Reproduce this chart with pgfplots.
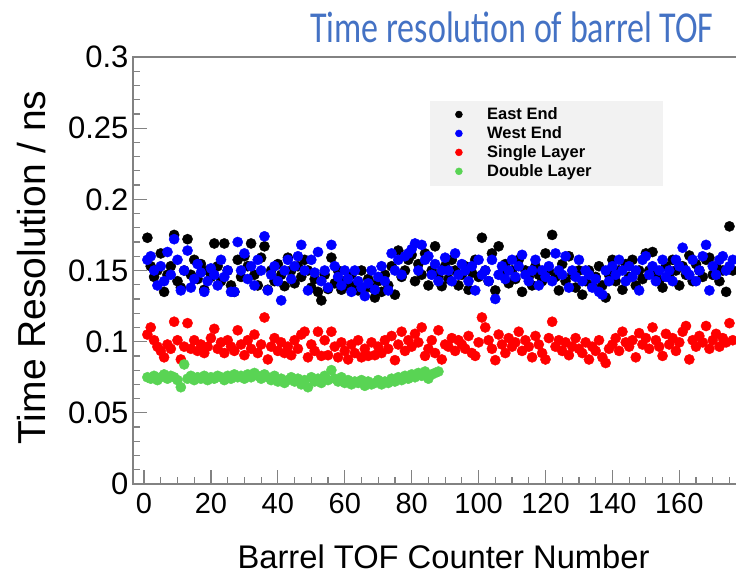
\documentclass[border=0pt]{standalone}
\usepackage{pgfplots}
\pgfplotsset{compat=1.18}
\usepackage{pgfplotstable}
\usepackage{fontspec}
\setmainfont{Liberation Sans}
\newfontfamily\titlefont{Carlito}

\definecolor{titleblue}{RGB}{68,114,196}
\definecolor{rootgreen}{RGB}{89,212,84}
\definecolor{legendgray}{RGB}{242,242,242}
\definecolor{framegray}{RGB}{130,130,130}

% Time resolution (ns) per barrel TOF counter
\pgfplotstableread{
n east west single
1 0.173 0.1575 0.105
2 0.153 0.160 0.110
3 0.1455 0.150 0.101
4 0.150 0.1395 0.0965
5 0.162 0.153 0.0935
6 0.135 0.1425 0.089
7 0.147 0.163 0.098
8 0.153 0.147 0.095
9 0.175 0.172 0.114
10 0.1425 0.1575 0.101
11 0.138 0.136 0.0875
12 0.150 0.150 0.0965
13 0.172 0.164 0.113
14 0.147 0.138 0.095
15 0.1575 0.144 0.101
16 0.144 0.1545 0.0935
17 0.1545 0.1485 0.098
18 0.1365 0.135 0.092
19 0.150 0.1425 0.0965
20 0.1455 0.1515 0.1025
21 0.169 0.147 0.109
22 0.153 0.1395 0.095
23 0.1425 0.1575 0.0995
24 0.169 0.1455 0.092
25 0.150 0.150 0.101
26 0.1395 0.135 0.0965
27 0.135 0.135 0.0935
28 0.1575 0.170 0.108
29 0.1455 0.150 0.098
30 0.160 0.162 0.0905
31 0.153 0.144 0.101
32 0.169 0.153 0.095
33 0.147 0.1395 0.105
34 0.1395 0.1575 0.092
35 0.159 0.150 0.098
36 0.167 0.174 0.117
37 0.1365 0.136 0.0875
38 0.150 0.147 0.0965
39 0.1425 0.153 0.1025
40 0.1545 0.1425 0.0935
41 0.147 0.129 0.0995
42 0.139 0.150 0.092
43 0.159 0.1575 0.0965
44 0.150 0.144 0.0905
45 0.141 0.153 0.101
46 0.153 0.160 0.095
47 0.1455 0.168 0.105
48 0.1575 0.150 0.107
49 0.150 0.136 0.089
50 0.138 0.1575 0.098
51 0.144 0.1485 0.0935
52 0.135 0.163 0.107
53 0.129 0.1425 0.090
54 0.147 0.150 0.101
55 0.137 0.138 0.0905
56 0.159 0.168 0.107
57 0.141 0.153 0.0965
58 0.150 0.1455 0.089
59 0.1365 0.1395 0.0995
60 0.1425 0.150 0.0935
61 0.139 0.144 0.0875
62 0.147 0.135 0.098
63 0.1395 0.150 0.092
64 0.136 0.1425 0.101
65 0.150 0.138 0.089
66 0.138 0.132 0.095
67 0.144 0.141 0.090
68 0.138 0.150 0.0995
69 0.131 0.1365 0.0905
70 0.1425 0.1455 0.0965
71 0.135 0.153 0.092
72 0.147 0.1425 0.101
73 0.1395 0.136 0.095
74 0.153 0.162 0.104
75 0.133 0.150 0.087
76 0.164 0.1575 0.098
77 0.1455 0.147 0.107
78 0.150 0.160 0.0935
79 0.1575 0.162 0.101
80 0.161 0.165 0.0965
81 0.1425 0.169 0.1055
82 0.1545 0.150 0.0995
83 0.147 0.168 0.110
84 0.162 0.1575 0.090
85 0.1395 0.160 0.095
86 0.150 0.147 0.101
87 0.167 0.1545 0.092
88 0.1455 0.1425 0.108
89 0.139 0.150 0.0875
90 0.153 0.159 0.098
91 0.144 0.150 0.0965
92 0.1575 0.1425 0.1025
93 0.150 0.162 0.0935
94 0.1395 0.147 0.101
95 0.147 0.1545 0.098
96 0.153 0.150 0.095
97 0.1365 0.1425 0.104
98 0.1485 0.153 0.092
99 0.1575 0.136 0.090
100 0.1455 0.1575 0.0995
101 0.173 0.147 0.117
102 0.150 0.150 0.110
103 0.1425 0.1425 0.101
104 0.162 0.1575 0.095
105 0.136 0.130 0.087
106 0.167 0.147 0.105
107 0.147 0.153 0.098
108 0.1545 0.144 0.092
109 0.141 0.150 0.1025
110 0.150 0.1575 0.0965
111 0.144 0.1455 0.0995
112 0.1575 0.153 0.107
113 0.135 0.161 0.0935
114 0.150 0.147 0.101
115 0.1455 0.1425 0.0965
116 0.1395 0.150 0.089
117 0.153 0.1575 0.104
118 0.147 0.1395 0.098
119 0.1425 0.150 0.092
120 0.162 0.1455 0.0875
121 0.150 0.153 0.1025
122 0.175 0.1425 0.114
123 0.1455 0.162 0.0965
124 0.136 0.150 0.101
125 0.1545 0.147 0.0935
126 0.1425 0.160 0.0995
127 0.160 0.138 0.0905
128 0.147 0.150 0.0965
129 0.138 0.1455 0.1025
130 0.150 0.1575 0.095
131 0.133 0.1425 0.092
132 0.1425 0.150 0.0995
133 0.150 0.147 0.0875
134 0.139 0.138 0.0965
135 0.1455 0.144 0.0935
136 0.153 0.135 0.101
137 0.1395 0.133 0.089
138 0.131 0.150 0.085
139 0.147 0.1425 0.095
140 0.1575 0.153 0.098
141 0.1425 0.147 0.1025
142 0.150 0.1575 0.0935
143 0.1365 0.150 0.107
144 0.1545 0.1425 0.0995
145 0.1455 0.153 0.0965
146 0.1575 0.1455 0.101
147 0.1395 0.150 0.089
148 0.150 0.136 0.106
149 0.144 0.1575 0.098
150 0.162 0.160 0.1025
151 0.150 0.147 0.095
152 0.163 0.153 0.110
153 0.147 0.1425 0.101
154 0.1425 0.150 0.0965
155 0.138 0.1575 0.090
156 0.153 0.1455 0.1055
157 0.1455 0.150 0.098
158 0.1575 0.1425 0.1025
159 0.150 0.1575 0.0935
160 0.1395 0.153 0.0995
161 0.153 0.166 0.107
162 0.147 0.150 0.111
163 0.1605 0.147 0.0875
164 0.1425 0.1575 0.101
165 0.1545 0.1425 0.0965
166 0.150 0.150 0.104
167 0.1455 0.160 0.0995
168 0.1575 0.168 0.111
169 0.159 0.136 0.095
170 0.147 0.153 0.101
171 0.153 0.147 0.1055
172 0.1425 0.1575 0.0965
173 0.150 0.160 0.1025
174 0.135 0.150 0.0995
175 0.181 0.153 0.113
176 0.150 0.1575 0.101
}\tofdata

% Double-layer readout exists for the first 88 counters only
\pgfplotstableread{
n double
1 0.075
2 0.074
3 0.076
4 0.073
5 0.075
6 0.077
7 0.074
8 0.076
9 0.075
10 0.073
11 0.068
12 0.084
13 0.074
14 0.076
15 0.073
16 0.075
17 0.074
18 0.076
19 0.073
20 0.075
21 0.074
22 0.076
23 0.075
24 0.073
25 0.076
26 0.074
27 0.077
28 0.075
29 0.076
30 0.074
31 0.077
32 0.075
33 0.078
34 0.076
35 0.074
36 0.077
37 0.075
38 0.073
39 0.076
40 0.072
41 0.074
42 0.071
43 0.073
44 0.075
45 0.072
46 0.074
47 0.070
48 0.073
49 0.068
50 0.075
51 0.072
52 0.074
53 0.071
54 0.076
55 0.073
56 0.080
57 0.074
58 0.072
59 0.075
60 0.071
61 0.073
62 0.070
63 0.072
64 0.071
65 0.073
66 0.069
67 0.072
68 0.070
69 0.071
70 0.073
71 0.070
72 0.072
73 0.071
74 0.074
75 0.072
76 0.075
77 0.073
78 0.076
79 0.074
80 0.077
81 0.075
82 0.078
83 0.076
84 0.079
85 0.074
86 0.077
87 0.078
88 0.079
}\doubledata

\begin{document}
\begin{tikzpicture}
\path[use as bounding box] (0,0) rectangle (736pt,581pt);
\node[font=\titlefont\fontsize{34}{40}\selectfont, text=titleblue, anchor=base, inner sep=0pt]
  at (512pt,538pt) {\scalebox{1}[1.3]{Time resolution of barrel TOF}};
\begin{axis}[
  at={(133pt,97pt)}, anchor=south west,
  scale only axis, width=606.5pt, height=427pt,
  xmin=-3.3, xmax=178, ymin=0, ymax=0.3,
  axis line style={framegray, line width=1.4pt},
  tick pos=left, tick align=inside,
  major tick length=14pt, minor tick length=7pt,
  every tick/.style={framegray, line width=1.2pt},
  xtick distance=20, minor x tick num=3,
  ytick distance=0.05, minor y tick num=4,
  scaled y ticks=false,
  /pgf/number format/assume math mode=true,
  yticklabel style={/pgf/number format/fixed, /pgf/number format/precision=2,
    font=\fontsize{31}{36}\selectfont, xshift=-1pt},
  xticklabel style={font=\fontsize{29}{34}\selectfont, yshift=-6pt},
  xlabel={Barrel TOF Counter Number},
  xlabel style={at={(axis description cs:0.512,-0.171)}, anchor=center, font=\fontsize{32.7}{40}\selectfont},
  ylabel={Time Resolution / ns},
  ylabel style={at={(axis description cs:-0.168,0.507)}, anchor=center, font=\fontsize{39}{46}\selectfont},
  legend style={at={(axis description cs:0.5235,0.891)}, anchor=north west,
    fill=none, draw=none, font=\fontsize{16.5}{19}\selectfont\bfseries, row sep=1.5pt},
  legend cell align=left,
  legend image code/.code={\draw[#1, mark size=3.5pt] plot coordinates {(0pt,0pt)}; \path (-5pt,0pt) (26pt,0pt);},
]
\fill[legendgray] (axis description cs:0.490,0.697) rectangle (axis description cs:0.874,0.896);
\addplot[only marks, mark=*, black, mark size=5.1pt] table[x=n, y=east] {\tofdata};
\addlegendentry{East End}
\addplot[only marks, mark=*, blue, mark size=5.1pt] table[x=n, y=west] {\tofdata};
\addlegendentry{West End}
\addplot[only marks, mark=*, red, mark size=5.1pt] table[x=n, y=single] {\tofdata};
\addlegendentry{Single Layer}
\addplot[only marks, mark=*, rootgreen, mark size=5.1pt] table[x=n, y=double] {\doubledata};
\addlegendentry{Double Layer}
\end{axis}
\end{tikzpicture}
\end{document}
